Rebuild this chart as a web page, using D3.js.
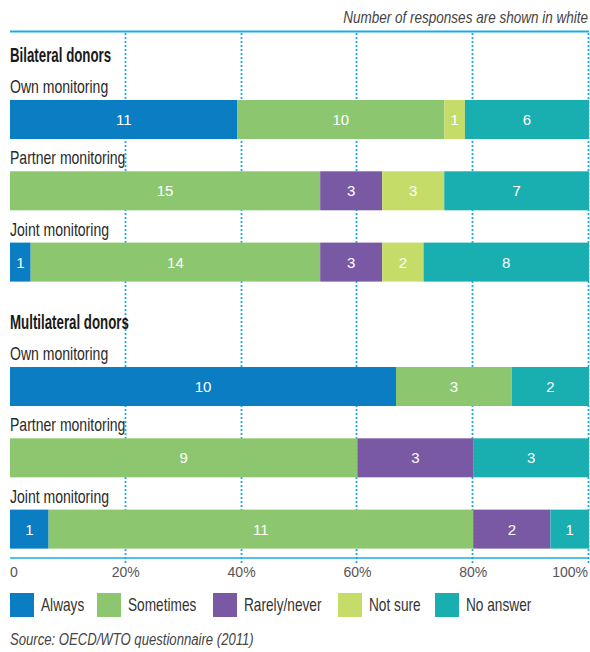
<!DOCTYPE html>
<html>
<head>
<meta charset="utf-8">
<script src="https://cdn.jsdelivr.net/npm/d3@7"></script>
<style>
  html, body { margin: 0; padding: 0; background: #fff; }
  svg { display: block; }
</style>
</head>
<body>
<script>
// ---- data ----
const seriesNames = ["Always", "Sometimes", "Rarely/never", "Not sure", "No answer"];
const seriesColors = ["#0a7dc3", "#8cc76f", "#7a59a4", "#c6dc69", "#19aeb0"];
const groups = ["Bilateral donors", "Multilateral donors"];
const rowLabels = ["Own monitoring", "Partner monitoring", "Joint monitoring"];
const bilateralValues = [
  [11, 10, 0, 1, 6],
  [0, 15, 3, 3, 7],
  [1, 14, 3, 2, 8]
];
const multilateralValues = [
  [10, 3, 0, 0, 2],
  [0, 9, 3, 0, 3],
  [1, 11, 2, 0, 1]
];
const tickValues = [0, 0.2, 0.4, 0.6, 0.8, 1.0];
const tickLabels = ["0", "20%", "40%", "60%", "80%", "100%"];
const noteText = "Number of responses are shown in white";
const sourceText = "Source:  OECD/WTO questionnaire (2011)";

// ---- layout ----
const W = 590, H = 652;
const sans = "'Liberation Sans', Arial, sans-serif";
const svg = d3.select("body").append("svg").attr("width", W).attr("height", H);

// condensed text helper (horizontal squeeze of a real text element)
function cText(parent, x, y, str, opts) {
  const t = parent.append("text")
    .attr("transform", `translate(${x},${y}) scale(${opts.sx},1)`)
    .attr("font-family", sans)
    .attr("font-size", opts.size)
    .attr("fill", opts.fill || "#333")
    .text(str);
  if (opts.weight) t.attr("font-weight", opts.weight);
  if (opts.style) t.attr("font-style", opts.style);
  if (opts.anchor) t.attr("text-anchor", opts.anchor);
  return t;
}

const x = d3.scaleLinear().domain([0, 1]).range([10, 589]);
// slot scale: one unit per row, extra gap between groups
const groupGap = 0.745;
const ySlot = d3.scaleLinear().domain([0, 1]).range([100, 171.3]);
const barH = 39;
const lineColor = "#19ade6";

const rows = [];
[bilateralValues, multilateralValues].forEach((vals, g) => {
  vals.forEach((v, i) => {
    const total = d3.sum(v);
    let cum = 0;
    const segs = v.map((n, s) => {
      const seg = { s, n, x0: cum / total, x1: (cum + n) / total };
      cum += n;
      return seg;
    });
    rows.push({ g, i, label: rowLabels[i], slot: g * (3 + groupGap) + i, segs });
  });
});

// top note and rule
cText(svg, 588, 23, noteText, { sx: 0.845, size: 16, style: "italic", fill: "#444", anchor: "end" });

svg.append("line")
  .attr("x1", x(0)).attr("x2", x(1))
  .attr("y1", 31.5).attr("y2", 31.5)
  .attr("stroke", lineColor).attr("stroke-width", 2);

// gridlines
const yBottomAxis = 558;
svg.append("g").selectAll("line")
  .data(tickValues.filter(t => t > 0))
  .join("line")
  .attr("x1", d => Math.round(x(d)) - 0.5).attr("x2", d => Math.round(x(d)) - 0.5)
  .attr("y1", 33).attr("y2", yBottomAxis + 6)
  .attr("stroke", lineColor).attr("stroke-width", 1.8)
  .attr("stroke-dasharray", "2,2");

// bottom axis line
svg.append("line")
  .attr("x1", x(0)).attr("x2", x(1))
  .attr("y1", yBottomAxis).attr("y2", yBottomAxis)
  .attr("stroke", lineColor).attr("stroke-width", 1.5);

// group headers
groups.forEach((gname, g) => {
  cText(svg, 10, ySlot(g * (3 + groupGap)) - 38, gname,
    { sx: 0.665, size: 20, weight: "bold", fill: "#1a1a1a" });
});

// rows
const rowG = svg.append("g").selectAll("g.row")
  .data(rows).join("g").attr("class", "row")
  .attr("transform", d => `translate(0,${ySlot(d.slot)})`);

rowG.each(function(d) {
  cText(d3.select(this), 10, -7, d.label, { sx: 0.78, size: 18, fill: "#2a2a2a" });
});

rowG.selectAll("rect")
  .data(d => d.segs.filter(s => s.n > 0))
  .join("rect")
  .attr("x", s => x(s.x0))
  .attr("width", s => x(s.x1) - x(s.x0))
  .attr("y", 0).attr("height", barH)
  .attr("fill", s => seriesColors[s.s]);

rowG.selectAll("text.val")
  .data(d => d.segs.filter(s => s.n > 0))
  .join("text").attr("class", "val")
  .attr("x", s => (x(s.x0) + x(s.x1)) / 2)
  .attr("y", barH / 2 + 5.5)
  .attr("text-anchor", "middle")
  .attr("font-family", sans)
  .attr("font-size", 15).attr("fill", "#fff")
  .text(s => s.n);

// tick labels
svg.append("g").selectAll("text")
  .data(tickValues)
  .join("text")
  .attr("x", (d, i) => i === tickValues.length - 1 ? x(d) - 1 : x(d))
  .attr("y", 577)
  .attr("text-anchor", (d, i) => i === 0 ? "start" : (i === tickValues.length - 1 ? "end" : "middle"))
  .attr("font-family", sans)
  .attr("font-size", 14).attr("fill", "#555")
  .text((d, i) => tickLabels[i]);

// legend
const legendX = [10, 97, 213, 338, 435];
const legend = svg.append("g").selectAll("g")
  .data(seriesNames)
  .join("g")
  .attr("transform", (d, i) => `translate(${legendX[i]},593)`);
legend.append("rect")
  .attr("width", 24).attr("height", 24)
  .attr("fill", (d, i) => seriesColors[i]);
legend.each(function(d) {
  cText(d3.select(this), 31, 18, d, { sx: 0.76, size: 18, fill: "#333" });
});

// source
cText(svg, 10, 645, sourceText, { sx: 0.82, size: 16, style: "italic", fill: "#444" });
</script>
</body>
</html>
